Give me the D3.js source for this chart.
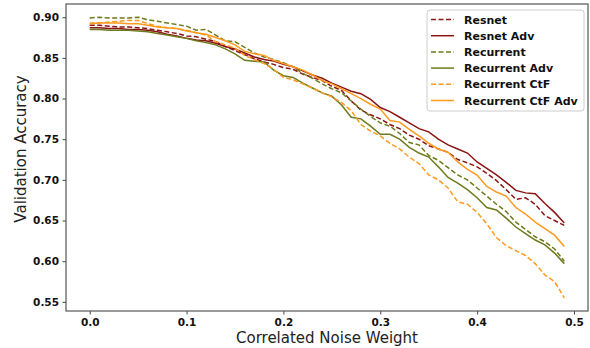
<!DOCTYPE html>
<html lang="en">
	<head>
		<meta charset="utf-8">
		<title>Validation accuracy vs correlated noise</title>
		<script type="text/javascript" src="https://cdn.jsdelivr.net/npm/d3@7"></script>
		<style type="text/css">
			body { margin: 0; background: white; }
			.tick text { font-family: "DejaVu Sans", sans-serif; font-weight: bold; font-size: 10.5px; fill: #111; }
			.tick line { stroke: #444; }
		</style>
	</head>
	<body>
		<script type="text/javascript">

			//Width and height
			var w = 590;
			var h = 348;
			var margin = {left: 66, right: 2, top: 4, bottom: 37};

			//Noise weights 0.00 .. 0.49
			var noiseWeights = d3.range(50).map(function(i) { return i / 100; });

			var xTicks = [0.0, 0.1, 0.2, 0.3, 0.4, 0.5];
			var yTicks = [0.55, 0.60, 0.65, 0.70, 0.75, 0.80, 0.85, 0.90];

			var seriesNames = ["Resnet", "Resnet Adv", "Recurrent", "Recurrent Adv", "Recurrent CtF", "Recurrent CtF Adv"];

			var resnet = [0.890, 0.890, 0.889, 0.888, 0.888, 0.887, 0.886, 0.884, 0.882, 0.880,
				0.877, 0.876, 0.873, 0.870, 0.864, 0.859, 0.854, 0.849, 0.845, 0.842,
				0.838, 0.836, 0.830, 0.826, 0.822, 0.815, 0.810, 0.797, 0.786, 0.780,
				0.775, 0.768, 0.763, 0.755, 0.750, 0.742, 0.738, 0.734, 0.725, 0.721,
				0.716, 0.708, 0.699, 0.688, 0.676, 0.678, 0.670, 0.656, 0.650, 0.644];

			var resnetAdv = [0.887, 0.887, 0.886, 0.886, 0.885, 0.885, 0.884, 0.882, 0.879, 0.877,
				0.874, 0.872, 0.871, 0.868, 0.864, 0.861, 0.856, 0.851, 0.848, 0.846,
				0.842, 0.839, 0.834, 0.829, 0.825, 0.819, 0.814, 0.809, 0.806, 0.799,
				0.789, 0.784, 0.777, 0.770, 0.763, 0.759, 0.750, 0.743, 0.738, 0.733,
				0.722, 0.714, 0.706, 0.697, 0.687, 0.684, 0.683, 0.671, 0.660, 0.647];

			var recurrent = [0.899, 0.900, 0.899, 0.899, 0.899, 0.900, 0.897, 0.895, 0.893, 0.891,
				0.889, 0.884, 0.885, 0.878, 0.871, 0.870, 0.863, 0.856, 0.851, 0.848,
				0.844, 0.839, 0.831, 0.825, 0.818, 0.812, 0.807, 0.797, 0.787, 0.778,
				0.770, 0.766, 0.757, 0.746, 0.743, 0.730, 0.724, 0.715, 0.706, 0.700,
				0.690, 0.680, 0.670, 0.661, 0.648, 0.639, 0.630, 0.624, 0.615, 0.600];

			var recurrentAdv = [0.885, 0.885, 0.884, 0.884, 0.884, 0.883, 0.882, 0.880, 0.878, 0.876,
				0.874, 0.871, 0.869, 0.866, 0.861, 0.855, 0.847, 0.846, 0.845, 0.835,
				0.828, 0.826, 0.819, 0.813, 0.807, 0.803, 0.792, 0.777, 0.775, 0.766,
				0.756, 0.756, 0.750, 0.740, 0.733, 0.728, 0.716, 0.703, 0.696, 0.688,
				0.678, 0.666, 0.663, 0.653, 0.642, 0.634, 0.626, 0.620, 0.610, 0.597];

			var recurrentCtf = [0.893, 0.893, 0.894, 0.895, 0.896, 0.896, 0.892, 0.889, 0.887, 0.886,
				0.884, 0.881, 0.878, 0.870, 0.866, 0.862, 0.853, 0.848, 0.843, 0.836,
				0.826, 0.823, 0.818, 0.813, 0.807, 0.802, 0.795, 0.785, 0.768, 0.760,
				0.754, 0.745, 0.738, 0.728, 0.720, 0.706, 0.700, 0.690, 0.673, 0.670,
				0.660, 0.646, 0.629, 0.619, 0.613, 0.607, 0.597, 0.583, 0.575, 0.555];

			var recurrentCtfAdv = [0.892, 0.893, 0.893, 0.893, 0.892, 0.892, 0.890, 0.888, 0.887, 0.886,
				0.883, 0.881, 0.879, 0.875, 0.871, 0.866, 0.858, 0.855, 0.853, 0.847,
				0.843, 0.839, 0.835, 0.829, 0.822, 0.818, 0.812, 0.806, 0.800, 0.793,
				0.787, 0.773, 0.771, 0.762, 0.754, 0.745, 0.738, 0.734, 0.722, 0.713,
				0.706, 0.692, 0.685, 0.680, 0.666, 0.658, 0.648, 0.640, 0.632, 0.618];

			var seriesValues = [resnet, resnetAdv, recurrent, recurrentAdv, recurrentCtf, recurrentCtfAdv];
			var seriesColors = ["#8b1414", "#8b1414", "#6e7a1c", "#6e7a1c", "#ff9a1e", "#ff9a1e"];
			var seriesDashed = [true, false, true, false, true, false];

			//Create scale functions (matplotlib-style 5% margins)
			var xScale = d3.scaleLinear()
				.domain([-0.0245, 0.5145])
				.range([margin.left, w - margin.right]);

			var yScale = d3.scaleLinear()
				.domain([0.53875, 0.91625])
				.range([h - margin.bottom, margin.top]);

			//Create SVG element
			var svg = d3.select("body")
				.append("svg")
				.attr("width", w)
				.attr("height", h);

			//Lines
			var line = d3.line()
				.x(function(d, i) { return xScale(noiseWeights[i]); })
				.y(function(d) { return yScale(d); });

			var plot = svg.append("g");
			seriesValues.forEach(function(vals, k) {
				plot.append("path")
					.datum(vals)
					.attr("d", line)
					.attr("fill", "none")
					.attr("stroke", seriesColors[k])
					.attr("stroke-width", 1.5)
					.attr("stroke-dasharray", seriesDashed[k] ? "5,2.5" : null);
			});

			//X axis
			var xAxis = d3.axisBottom(xScale)
				.tickValues(xTicks)
				.tickFormat(d3.format(".1f"))
				.tickSizeOuter(0)
				.tickSize(3.5)
				.tickPadding(4);

			var gx = svg.append("g")
				.attr("transform", "translate(0," + (h - margin.bottom) + ")")
				.call(xAxis);
			gx.select(".domain").remove();

			//Y axis
			var yAxis = d3.axisLeft(yScale)
				.tickValues(yTicks)
				.tickFormat(d3.format(".2f"))
				.tickSizeOuter(0)
				.tickSize(3.5)
				.tickPadding(3.5);

			var gy = svg.append("g")
				.attr("transform", "translate(" + margin.left + ",0)")
				.call(yAxis);
			gy.select(".domain").remove();

			//Frame
			svg.append("rect")
				.attr("x", margin.left)
				.attr("y", margin.top)
				.attr("width", w - margin.left - margin.right)
				.attr("height", h - margin.top - margin.bottom)
				.attr("fill", "none")
				.attr("stroke", "#555")
				.attr("stroke-width", 1.2);

			//Axis labels
			svg.append("text")
				.attr("x", (margin.left + w - margin.right) / 2)
				.attr("y", h - 5)
				.attr("text-anchor", "middle")
				.attr("font-family", "DejaVu Sans, sans-serif")
				.attr("font-size", "15px")
				.attr("fill", "#222")
				.text("Correlated Noise Weight");

			svg.append("text")
				.attr("transform", "translate(26,149) rotate(-90)")
				.attr("text-anchor", "middle")
				.attr("font-family", "DejaVu Sans, sans-serif")
				.attr("font-size", "15px")
				.attr("fill", "#222")
				.text("Validation Accuracy");

			//Legend
			var legend = svg.append("g").attr("transform", "translate(427,10)");
			legend.append("rect")
				.attr("width", 157)
				.attr("height", 101)
				.attr("rx", 3)
				.attr("fill", "white")
				.attr("fill-opacity", 0.8)
				.attr("stroke", "#ccc")
				.attr("stroke-width", 1);

			seriesNames.forEach(function(name, k) {
				var yy = 9.5 + k * 16.2;
				legend.append("line")
					.attr("x1", 4)
					.attr("x2", 27)
					.attr("y1", yy)
					.attr("y2", yy)
					.attr("stroke", seriesColors[k])
					.attr("stroke-width", 1.5)
					.attr("stroke-dasharray", seriesDashed[k] ? "5,2.5" : null);
				legend.append("text")
					.attr("x", 37)
					.attr("y", yy + 4)
					.attr("font-family", "DejaVu Sans, sans-serif")
					.attr("font-weight", "bold")
					.attr("font-size", "11px")
					.attr("fill", "#111")
					.text(name);
			});

		</script>
	</body>
</html>
